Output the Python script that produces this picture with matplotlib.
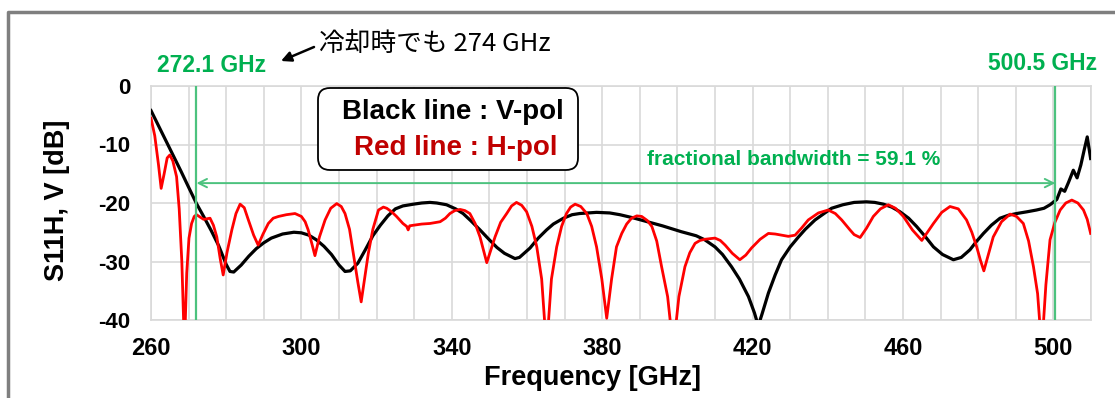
import numpy as np
import matplotlib
matplotlib.use('Agg')
import matplotlib.pyplot as plt
from matplotlib.patches import FancyBboxPatch
from matplotlib.lines import Line2D

plt.rcParams['font.family'] = ['Liberation Sans', 'DejaVu Sans']
plt.rcParams['axes.unicode_minus'] = False

# V-pol (black line)
freq_v = [260, 262, 264, 266, 268, 270, 272.1, 274, 276, 278, 280, 281, 282, 284, 286, 288,
          290, 292, 295, 298, 300, 302, 304, 306, 308, 310, 311.6, 313, 315, 317, 319, 321,
          323, 325, 327, 329.8, 332, 334.2, 336, 338.6, 341, 343, 345, 347.5, 350, 352, 354,
          356.8, 358, 360.8, 363, 365.2, 367, 369.7, 372, 374, 378.5, 382, 384.7, 388, 392,
          396, 401, 405, 407.3, 410, 412, 414.4, 416.5, 418.9, 420.5, 421.5, 422.5, 424.2,
          426, 427.7, 430, 432.2, 434, 436.6, 439, 441, 444, 447, 450.3, 452.5, 454.8, 457,
          459.2, 461.5, 463.6, 466, 468.1, 470.5, 473.4, 475.5, 477.8, 479.5, 481.4, 483.5,
          485.8, 488, 490.2, 493, 495.5, 497.5, 499.1, 500.9, 502, 503, 504, 505.3, 506.3,
          507.3, 508.2, 509, 509.9]
s11_v = [-4.2, -6.8, -9.4, -12.0, -14.6, -17.3, -20.1, -22.3, -24.7, -27.3, -30.5, -31.7,
         -31.8, -30.6, -29.1, -27.8, -26.8, -26.0, -25.3, -25.0, -25.1, -25.5, -26.3, -27.4,
         -28.8, -30.6, -31.7, -31.6, -30.3, -28.0, -25.6, -23.8, -22.2, -21.0, -20.5, -20.2,
         -20.0, -19.9, -20.0, -20.3, -21.0, -21.8, -23.0, -24.6, -26.3, -27.6, -28.6, -29.5,
         -29.3, -27.7, -26.0, -24.6, -23.6, -22.6, -22.0, -21.8, -21.6, -21.7, -22.0, -22.5,
         -23.2, -23.9, -24.9, -25.6, -26.3, -27.5, -28.8, -30.9, -33.0, -36.0, -38.8, -41.0,
         -39.0, -35.4, -32.3, -29.7, -27.5, -25.8, -24.5, -22.9, -21.8, -20.9, -20.3, -19.9,
         -19.8, -19.9, -20.2, -20.7, -21.5, -22.6, -24.0, -25.8, -27.5, -28.8, -29.7, -29.3,
         -28.0, -26.6, -25.2, -23.8, -22.6, -22.1, -21.8, -21.5, -21.2, -20.9, -20.3, -19.4,
         -17.6, -18.0, -16.5, -14.4, -15.7, -13.5, -10.9, -8.7, -12.4]

# H-pol (red line)
freq_h = [260, 261, 262, 262.7, 263.5, 264.3, 265, 265.8, 266.8, 267.5, 268.2, 268.9, 269.5,
          270.1, 270.8, 271.5, 272.1, 274, 275.7, 276.6, 277.5, 278.4, 279.2, 280.2, 281.5,
          282.6, 283.7, 284.8, 285.9, 287.3, 288.5, 289.8, 291.2, 292.5, 293.9, 296, 298.3,
          300, 301, 301.8, 302.8, 303.6, 304.8, 306.3, 307.8, 309.4, 310.6, 311.6, 312.8,
          313.8, 315, 315.9, 316.8, 317.8, 319, 320.5, 321.8, 322.7, 324, 325.3, 327, 328,
          328.4, 328.8, 329.8, 332, 334.2, 336.9, 338.3, 339.5, 340.8, 342.2, 343.5, 344.8,
          346.2, 347.5, 348.4, 349.3, 350.4, 351.5, 353, 354.6, 355.9, 357.2, 358.6, 359.9,
          361.3, 362.6, 363.9, 365.2, 366.5, 367.9, 369.2, 370.5, 371.6, 372.8, 374.3, 375.9,
          377.2, 378.5, 379.9, 381.2, 382.5, 383.8, 385.2, 386.5, 387.8, 389.2, 390.5, 392,
          393.2, 394.5, 395.8, 397.4, 398.9, 400.4, 402, 403.3, 404.7, 406, 407.3, 410,
          411.4, 412.7, 414.6, 416.6, 418.2, 419.7, 422, 424.2, 426, 427.7, 429.5, 431.3, 433,
          434.8, 437.5, 440.1, 442, 443.7, 445.9, 447, 448.6, 450.3, 452.1, 454, 456.1, 458,
          460.1, 462.5, 465, 466.5, 468.1, 470.3, 472.5, 474.7, 476.9, 478.3, 479.6, 480.6,
          481.5, 482.7, 484, 486.2, 488.5, 490.2, 492, 493.4, 494.7, 495.8, 496.9, 498,
          499.1, 500.4, 501.8, 503.3, 504.9, 506.5, 508, 509, 509.9]
s11_h = [-5.5, -8.5, -13.5, -17.5, -15.0, -12.3, -11.8, -12.8, -15.5, -21.0, -30.0, -45.0,
         -32.0, -26.0, -23.5, -22.3, -22.0, -22.8, -22.6, -23.8, -25.8, -29.5, -32.3, -28.5,
         -24.6, -21.8, -20.2, -20.8, -22.9, -25.5, -27.2, -25.3, -23.5, -22.6, -22.3, -22.0,
         -21.8, -22.3, -23.2, -24.6, -27.0, -29.0, -25.8, -22.9, -20.9, -20.1, -20.6, -21.8,
         -24.5, -28.6, -33.5, -36.9, -33.0, -28.6, -24.5, -21.2, -20.7, -20.9, -21.5, -22.3,
         -23.5, -24.0, -24.6, -23.9, -23.8, -23.6, -23.5, -23.2, -22.6, -21.8, -21.3, -21.1,
         -21.3, -21.8, -23.5, -25.8, -28.0, -30.2, -28.0, -25.8, -23.3, -21.8, -20.5, -19.9,
         -20.4, -21.5, -24.0, -27.5, -33.0, -45.0, -33.0, -27.5, -24.0, -21.8, -20.7, -20.2,
         -20.6, -21.8, -24.0, -27.5, -33.0, -39.7, -33.0, -27.5, -25.2, -23.6, -22.6, -22.2,
         -22.3, -23.0, -24.0, -26.5, -30.9, -36.0, -45.0, -36.0, -30.9, -28.5, -26.9, -26.4,
         -26.2, -26.0, -26.4, -27.2, -28.6, -29.7, -28.9, -27.7, -26.2, -25.2, -25.3, -25.5,
         -25.7, -25.5, -24.3, -22.9, -21.7, -21.2, -21.8, -22.9, -24.6, -25.4, -25.9, -24.3,
         -22.3, -21.0, -20.3, -20.9, -22.3, -24.6, -26.4, -25.0, -23.5, -21.6, -20.6, -21.0,
         -22.9, -25.0, -27.5, -29.8, -31.6, -28.8, -25.8, -23.2, -21.9, -22.3, -23.5, -26.5,
         -30.9, -35.5, -45.0, -34.0, -26.3, -23.3, -21.2, -20.0, -19.5, -20.0, -21.2, -22.8,
         -25.2]

f_low, f_high = 272.1, 500.5
bw_label = 'fractional bandwidth = 59.1 %'
x_ticks = [260, 300, 340, 380, 420, 460, 500]
y_ticks = [0, -10, -20, -30, -40]

green_txt = '#00B050'
green_ln = '#4CC27E'
grid_c = '#D9D9D9'

W, H = 1115, 398
fig = plt.figure(figsize=(W / 100, H / 100), dpi=100)
ax = fig.add_axes([151 / W, 1 - 320 / H, 940 / W, 234 / H])

ax.plot(freq_v, s11_v, color='black', lw=2.3, zorder=3)
ax.plot(freq_h, s11_h, color='#FF0000', lw=2.0, zorder=4)

ax.set_xlim(260, 510)
ax.set_ylim(-40, 0)
ax.set_xticks(x_ticks)
ax.set_xticks(np.arange(260, 511, 10), minor=True)
ax.set_yticks(y_ticks)
ax.grid(True, which='both', color=grid_c, lw=1.2, zorder=0)
for s in ax.spines.values():
    s.set_color(grid_c)
    s.set_linewidth(1.2)
ax.tick_params(length=0, which='both')
ax.tick_params(axis='y', labelsize=16, pad=15)
ax.tick_params(axis='x', labelsize=17, pad=12)
for lab in ax.get_xticklabels() + ax.get_yticklabels():
    lab.set_fontweight('bold')

# band edges
ax.axvline(f_low, color=green_ln, lw=1.6, zorder=5)
ax.axvline(f_high, color=green_ln, lw=1.6, zorder=5)
ax.annotate('', xy=(f_low, -16.6), xytext=(f_high, -16.6),
            arrowprops=dict(arrowstyle='<->,head_length=0.6,head_width=0.3',
                            color=green_ln, lw=1.4, shrinkA=0, shrinkB=0), zorder=5)
ax.text(431, -12.6, bw_label, color=green_txt, fontsize=15, fontweight='bold',
        ha='center', va='center')

def px(x, y):
    return x / W, 1 - y / H

fig.text(*px(212, 65), '272.1 GHz', color=green_txt, fontsize=16.5, fontweight='bold',
         ha='center', va='center')
fig.text(*px(1043, 63), '500.5 GHz', color=green_txt, fontsize=16.5, fontweight='bold',
         ha='center', va='center')
fig.text(*px(319, 44), '冷却時でも 274 GHz', fontsize=18.5, ha='left', va='center',
         family=['Noto Sans CJK JP', 'DejaVu Sans'])
ax.annotate('', xy=px(281, 61), xytext=px(314, 47), xycoords='figure fraction',
            textcoords='figure fraction',
            arrowprops=dict(arrowstyle='-|>,head_length=0.6,head_width=0.3',
                            color='black', lw=1.8, shrinkA=0, shrinkB=0))

# legend box
box = FancyBboxPatch((318 / 100, (H - 170) / 100), 260 / 100, 82 / 100,
                     boxstyle='round,pad=0,rounding_size=0.12',
                     transform=fig.dpi_scale_trans, facecolor='white',
                     edgecolor='black', lw=1.3, zorder=10)
fig.add_artist(box)
fig.text(*px(453, 112), 'Black line : V-pol', fontsize=20, fontweight='bold',
         color='black', ha='center', va='center', zorder=11)
fig.text(*px(456, 148), 'Red line : H-pol', fontsize=20, fontweight='bold',
         color='#C00000', ha='center', va='center', zorder=11)

# axis labels
fig.text(*px(592, 378), 'Frequency [GHz]', fontsize=19.5, fontweight='bold',
         ha='center', va='center')
fig.text(*px(57, 200), 'S11H, V [dB]', fontsize=19.5, fontweight='bold',
         ha='center', va='center', rotation=90)

# outer grey frame
fig.add_artist(Line2D([7.5 / W, 7.5 / W, 1.0], [0, 1 - 11.5 / H, 1 - 11.5 / H],
                      transform=fig.transFigure, color='#7F7F7F', lw=2.5))

fig.savefig('out.png', dpi=100)
